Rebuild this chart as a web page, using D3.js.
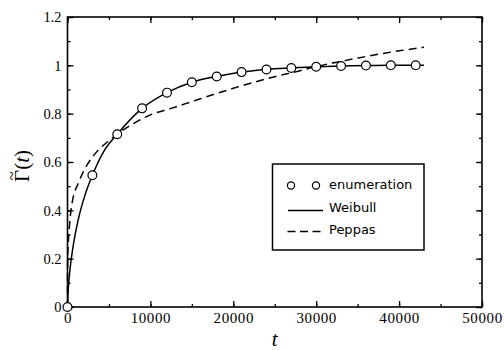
<!DOCTYPE html>
<html>
<head>
<meta charset="utf-8">
<script src="https://cdn.jsdelivr.net/npm/d3@7"></script>
<style>
  html, body { margin: 0; padding: 0; background: #fff; }
  svg { display: block; }
</style>
</head>
<body>
<svg id="chart" width="504" height="350"></svg>
<script>
// Enumerated fraction at sampled times
const enumT = [0, 3000, 6000, 9000, 12000, 15000, 18000, 21000, 24000, 27000, 30000, 33000, 36000, 39000, 42000];
const enumG = [0, 0.545, 0.715, 0.822, 0.887, 0.930, 0.954, 0.972, 0.983, 0.989, 0.994, 0.997, 0.999, 1.0, 1.0];

// Weibull fit curve
const weibullT = [0, 50, 150, 300, 700, 1300, 2100, 3000, 4400, 6000, 9000, 12000, 15000, 18000, 21000, 24000, 27000, 30000, 33000, 36000, 39000, 43000];
const weibullG = [0, 0.05, 0.10, 0.155, 0.256, 0.362, 0.462, 0.545, 0.645, 0.715, 0.822, 0.887, 0.930, 0.954, 0.972, 0.983, 0.989, 0.994, 0.997, 0.999, 1.0, 1.0];

// Peppas fit curve
const peppasT = [0, 5, 30, 100, 200, 500, 1400, 2400, 3600, 5000, 6000, 8000, 10000, 12500, 15000, 17500, 20000, 22500, 25000, 27500, 30000, 32500, 35000, 37500, 40000, 43000];
const peppasG = [0, 0.14, 0.21, 0.27, 0.32, 0.42, 0.52, 0.59, 0.645, 0.688, 0.715, 0.76, 0.795, 0.822, 0.85, 0.878, 0.905, 0.93, 0.953, 0.973, 0.995, 1.013, 1.03, 1.046, 1.06, 1.075];

const xTicks = [0, 10000, 20000, 30000, 40000, 50000];
const yTicks = [0, 0.2, 0.4, 0.6, 0.8, 1, 1.2];
const legendLabels = ["enumeration", "Weibull", "Peppas"];

const svg = d3.select("#chart");
const plotL = 67.5, plotR = 482, plotT = 17, plotB = 307;

const x = d3.scaleLinear().domain([0, 50000]).range([plotL, plotR]);
const y = d3.scaleLinear().domain([0, 1.2]).range([plotB, plotT]);

const serif = "'Liberation Serif', 'Times New Roman', serif";

// Tick marks pointing into the plot on all four sides
function ticks(axis, pos, size, values, labels) {
  const g = svg.append("g").attr("transform", pos).call(
    axis.tickValues(values).tickSizeInner(size).tickSizeOuter(0)
      .tickFormat(labels ? d => d3.format("")(d) : "")
  );
  g.attr("font-family", serif);
  g.select(".domain").remove();
  g.selectAll("line").attr("stroke", "#000").attr("stroke-width", 1.3);
  return g;
}
const xMinor = d3.range(0, 50001, 5000);
const yMinor = d3.range(0, 1.21, 0.1);

ticks(d3.axisBottom(x), `translate(0,${plotB})`, -3, xMinor, false);
ticks(d3.axisTop(x), `translate(0,${plotT})`, -3, xMinor, false);
ticks(d3.axisLeft(y), `translate(${plotL},0)`, -3, yMinor, false);
ticks(d3.axisRight(y), `translate(${plotR},0)`, -3, yMinor, false);

const xg = ticks(d3.axisBottom(x), `translate(0,${plotB})`, -6, xTicks, true);
xg.selectAll("text").attr("y", 5.5).attr("dy", "0.71em")
  .style("font-family", serif).style("font-size", "15px").style("letter-spacing", "0.6px").attr("fill", "#000");
ticks(d3.axisTop(x), `translate(0,${plotT})`, -6, xTicks, false);

const yg = ticks(d3.axisLeft(y), `translate(${plotL},0)`, -6, yTicks, true);
yg.selectAll("text").attr("x", -6).attr("dy", "0.34em")
  .style("font-family", serif).style("font-size", "14.5px").attr("fill", "#000");
ticks(d3.axisRight(y), `translate(${plotR},0)`, -6, yTicks, false);

// Frame
svg.append("rect")
  .attr("x", plotL).attr("y", plotT).attr("width", plotR - plotL).attr("height", plotB - plotT)
  .attr("fill", "none").attr("stroke", "#000").attr("stroke-width", 1.6);

// Curves
const line = d3.line().x(d => x(d[0])).y(d => y(d[1])).curve(d3.curveMonotoneX);

svg.append("path")
  .datum(peppasT.map((t, i) => [t, peppasG[i]]))
  .attr("d", line).attr("fill", "none").attr("stroke", "#000")
  .attr("stroke-width", 1.5).attr("stroke-dasharray", "8,5");

svg.append("path")
  .datum(weibullT.map((t, i) => [t, weibullG[i]]))
  .attr("d", line).attr("fill", "none").attr("stroke", "#000")
  .attr("stroke-width", 1.5);

svg.append("g").selectAll("circle")
  .data(enumT.map((t, i) => [t, enumG[i]]))
  .join("circle")
  .attr("cx", d => x(d[0])).attr("cy", d => y(d[1])).attr("r", 4.4)
  .attr("fill", "#fff").attr("stroke", "#000").attr("stroke-width", 1.2);

// Axis titles
svg.append("text")
  .attr("x", (plotL + plotR) / 2).attr("y", 346)
  .attr("text-anchor", "middle")
  .style("font-family", serif).style("font-style", "italic").style("font-size", "21px")
  .text("t");

// Rotated y title: Γ with a tilde accent, followed by (t)
const yTitle = svg.append("g").attr("transform", `translate(29,166) rotate(-90)`);
const yText = yTitle.append("text")
  .style("font-family", serif).style("font-size", "21px")
  .html('\u0393(<tspan font-style="italic">t</tspan>)');
const fullW = yText.node().getComputedTextLength();
const gammaW = yText.node().getSubStringLength(0, 1);
yText.attr("x", -fullW / 2);
yTitle.append("text")
  .attr("x", -fullW / 2 + gammaW / 2).attr("y", -12.5)
  .attr("text-anchor", "middle")
  .style("font-family", serif).style("font-size", "17px")
  .text("~");

// Legend
const lg = svg.append("g");
lg.append("rect")
  .attr("x", 272.5).attr("y", 164).attr("width", 151.5).attr("height", 86)
  .attr("fill", "#fff").attr("stroke", "#000").attr("stroke-width", 1.5);

const sans = "'DejaVu Sans', Verdana, sans-serif";
const rowsY = [189, 212, 234];
legendLabels.forEach((lab, i) => {
  lg.append("text").attr("x", 329).attr("y", rowsY[i])
    .style("font-family", sans).style("font-size", "13px").text(lab);
});
[291, 316].forEach(cx => {
  lg.append("circle").attr("cx", cx).attr("cy", 185.5).attr("r", 3.6)
    .attr("fill", "#fff").attr("stroke", "#000").attr("stroke-width", 1.2);
});
lg.append("line").attr("x1", 288).attr("x2", 323).attr("y1", 210.5).attr("y2", 210.5)
  .attr("stroke", "#000").attr("stroke-width", 1.5);
lg.append("line").attr("x1", 287.5).attr("x2", 323).attr("y1", 231.5).attr("y2", 231.5)
  .attr("stroke", "#000").attr("stroke-width", 1.5).attr("stroke-dasharray", "8,4.5");
</script>
</body>
</html>
